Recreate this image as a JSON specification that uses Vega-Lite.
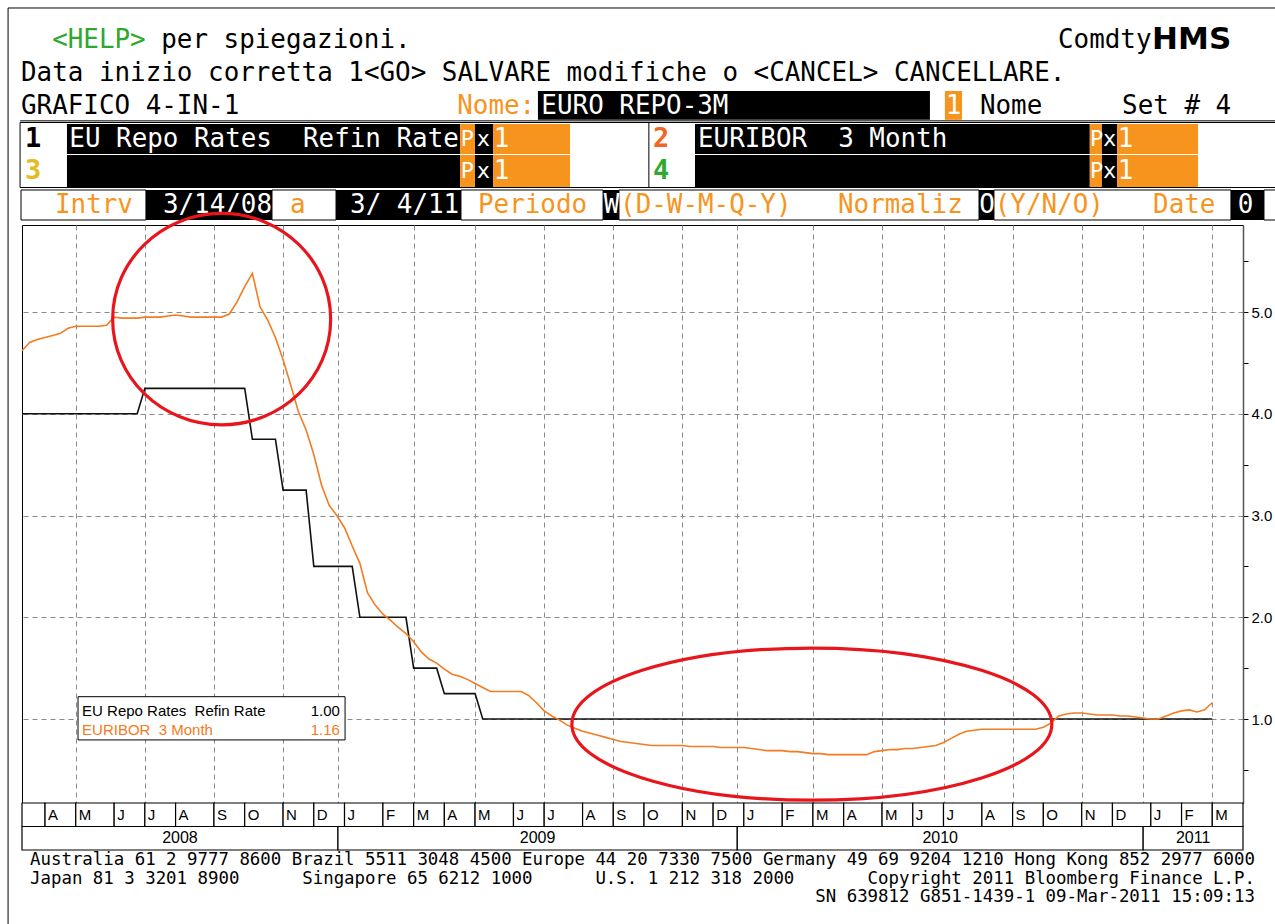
{
"$schema":"https://vega.github.io/schema/vega-lite/v6.json",
"width":1221,"height":578,
"padding":{"left":22,"top":225,"right":32,"bottom":121},
"autosize":{"type":"none"},
"background":"#ffffff",
"config":{"view":{"stroke":"#000000","strokeWidth":1}},
"datasets":{
"rates":[
{"d":"2008-03-14","s":"Refi","v":4.0},{"d":"2008-06-27","s":"Refi","v":4.0},{"d":"2008-07-04","s":"Refi","v":4.25},{"d":"2008-10-03","s":"Refi","v":4.25},{"d":"2008-10-10","s":"Refi","v":3.75},{"d":"2008-10-31","s":"Refi","v":3.75},{"d":"2008-11-07","s":"Refi","v":3.25},{"d":"2008-11-28","s":"Refi","v":3.25},{"d":"2008-12-05","s":"Refi","v":2.5},{"d":"2009-01-09","s":"Refi","v":2.5},{"d":"2009-01-16","s":"Refi","v":2.0},{"d":"2009-02-27","s":"Refi","v":2.0},{"d":"2009-03-06","s":"Refi","v":1.5},{"d":"2009-03-27","s":"Refi","v":1.5},{"d":"2009-04-03","s":"Refi","v":1.25},{"d":"2009-05-01","s":"Refi","v":1.25},{"d":"2009-05-08","s":"Refi","v":1.0},{"d":"2011-03-04","s":"Refi","v":1.0},
{"d":"2008-03-14","s":"Euribor","v":4.62},{"d":"2008-03-21","s":"Euribor","v":4.70},{"d":"2008-03-28","s":"Euribor","v":4.73},{"d":"2008-04-04","s":"Euribor","v":4.75},{"d":"2008-04-11","s":"Euribor","v":4.77},{"d":"2008-04-18","s":"Euribor","v":4.79},{"d":"2008-04-25","s":"Euribor","v":4.84},{"d":"2008-05-02","s":"Euribor","v":4.86},{"d":"2008-05-09","s":"Euribor","v":4.86},{"d":"2008-05-16","s":"Euribor","v":4.86},{"d":"2008-05-23","s":"Euribor","v":4.86},{"d":"2008-05-30","s":"Euribor","v":4.87},{"d":"2008-06-06","s":"Euribor","v":4.95},{"d":"2008-06-13","s":"Euribor","v":4.94},{"d":"2008-06-20","s":"Euribor","v":4.94},{"d":"2008-06-27","s":"Euribor","v":4.94},{"d":"2008-07-04","s":"Euribor","v":4.95},{"d":"2008-07-11","s":"Euribor","v":4.95},{"d":"2008-07-18","s":"Euribor","v":4.95},{"d":"2008-07-25","s":"Euribor","v":4.96},{"d":"2008-08-01","s":"Euribor","v":4.97},{"d":"2008-08-08","s":"Euribor","v":4.96},{"d":"2008-08-15","s":"Euribor","v":4.95},{"d":"2008-08-22","s":"Euribor","v":4.95},{"d":"2008-08-29","s":"Euribor","v":4.95},{"d":"2008-09-05","s":"Euribor","v":4.95},{"d":"2008-09-12","s":"Euribor","v":4.95},{"d":"2008-09-19","s":"Euribor","v":4.98},{"d":"2008-09-26","s":"Euribor","v":5.10},{"d":"2008-10-03","s":"Euribor","v":5.25},{"d":"2008-10-10","s":"Euribor","v":5.38},{"d":"2008-10-17","s":"Euribor","v":5.05},{"d":"2008-10-24","s":"Euribor","v":4.92},{"d":"2008-10-31","s":"Euribor","v":4.75},{"d":"2008-11-07","s":"Euribor","v":4.53},{"d":"2008-11-14","s":"Euribor","v":4.28},{"d":"2008-11-21","s":"Euribor","v":4.02},{"d":"2008-11-28","s":"Euribor","v":3.84},{"d":"2008-12-05","s":"Euribor","v":3.60},{"d":"2008-12-12","s":"Euribor","v":3.30},{"d":"2008-12-19","s":"Euribor","v":3.10},{"d":"2008-12-26","s":"Euribor","v":3.00},
{"d":"2009-01-02","s":"Euribor","v":2.88},{"d":"2009-01-09","s":"Euribor","v":2.70},{"d":"2009-01-16","s":"Euribor","v":2.53},{"d":"2009-01-23","s":"Euribor","v":2.24},{"d":"2009-01-30","s":"Euribor","v":2.12},{"d":"2009-02-06","s":"Euribor","v":2.03},{"d":"2009-02-13","s":"Euribor","v":1.97},{"d":"2009-02-20","s":"Euribor","v":1.90},{"d":"2009-02-27","s":"Euribor","v":1.84},{"d":"2009-03-06","s":"Euribor","v":1.76},{"d":"2009-03-13","s":"Euribor","v":1.66},{"d":"2009-03-20","s":"Euribor","v":1.59},{"d":"2009-03-27","s":"Euribor","v":1.55},{"d":"2009-04-03","s":"Euribor","v":1.49},{"d":"2009-04-10","s":"Euribor","v":1.44},{"d":"2009-04-17","s":"Euribor","v":1.42},{"d":"2009-04-24","s":"Euribor","v":1.39},{"d":"2009-05-01","s":"Euribor","v":1.35},{"d":"2009-05-08","s":"Euribor","v":1.31},{"d":"2009-05-15","s":"Euribor","v":1.27},{"d":"2009-05-22","s":"Euribor","v":1.27},{"d":"2009-05-29","s":"Euribor","v":1.27},{"d":"2009-06-05","s":"Euribor","v":1.27},{"d":"2009-06-12","s":"Euribor","v":1.27},{"d":"2009-06-19","s":"Euribor","v":1.23},{"d":"2009-06-26","s":"Euribor","v":1.16},{"d":"2009-07-03","s":"Euribor","v":1.08},{"d":"2009-07-10","s":"Euribor","v":1.03},{"d":"2009-07-17","s":"Euribor","v":0.99},{"d":"2009-07-24","s":"Euribor","v":0.94},{"d":"2009-07-31","s":"Euribor","v":0.91},{"d":"2009-08-07","s":"Euribor","v":0.88},{"d":"2009-08-14","s":"Euribor","v":0.86},{"d":"2009-08-21","s":"Euribor","v":0.84},{"d":"2009-08-28","s":"Euribor","v":0.82},{"d":"2009-09-04","s":"Euribor","v":0.80},{"d":"2009-09-11","s":"Euribor","v":0.78},{"d":"2009-09-18","s":"Euribor","v":0.77},{"d":"2009-09-25","s":"Euribor","v":0.76},{"d":"2009-10-02","s":"Euribor","v":0.75},{"d":"2009-10-09","s":"Euribor","v":0.74},{"d":"2009-10-16","s":"Euribor","v":0.74},{"d":"2009-10-23","s":"Euribor","v":0.74},{"d":"2009-10-30","s":"Euribor","v":0.74},{"d":"2009-11-06","s":"Euribor","v":0.74},{"d":"2009-11-13","s":"Euribor","v":0.73},{"d":"2009-11-20","s":"Euribor","v":0.73},{"d":"2009-11-27","s":"Euribor","v":0.73},{"d":"2009-12-04","s":"Euribor","v":0.73},{"d":"2009-12-11","s":"Euribor","v":0.72},{"d":"2009-12-18","s":"Euribor","v":0.72},{"d":"2009-12-25","s":"Euribor","v":0.72},
{"d":"2010-01-01","s":"Euribor","v":0.72},{"d":"2010-01-08","s":"Euribor","v":0.71},{"d":"2010-01-15","s":"Euribor","v":0.70},{"d":"2010-01-22","s":"Euribor","v":0.69},{"d":"2010-01-29","s":"Euribor","v":0.69},{"d":"2010-02-05","s":"Euribor","v":0.69},{"d":"2010-02-12","s":"Euribor","v":0.68},{"d":"2010-02-19","s":"Euribor","v":0.68},{"d":"2010-02-26","s":"Euribor","v":0.67},{"d":"2010-03-05","s":"Euribor","v":0.66},{"d":"2010-03-12","s":"Euribor","v":0.66},{"d":"2010-03-19","s":"Euribor","v":0.65},{"d":"2010-03-26","s":"Euribor","v":0.65},{"d":"2010-04-02","s":"Euribor","v":0.65},{"d":"2010-04-09","s":"Euribor","v":0.65},{"d":"2010-04-16","s":"Euribor","v":0.65},{"d":"2010-04-23","s":"Euribor","v":0.65},{"d":"2010-04-30","s":"Euribor","v":0.68},{"d":"2010-05-07","s":"Euribor","v":0.69},{"d":"2010-05-14","s":"Euribor","v":0.70},{"d":"2010-05-21","s":"Euribor","v":0.70},{"d":"2010-05-28","s":"Euribor","v":0.71},{"d":"2010-06-04","s":"Euribor","v":0.71},{"d":"2010-06-11","s":"Euribor","v":0.72},{"d":"2010-06-18","s":"Euribor","v":0.73},{"d":"2010-06-25","s":"Euribor","v":0.74},{"d":"2010-07-02","s":"Euribor","v":0.77},{"d":"2010-07-09","s":"Euribor","v":0.81},{"d":"2010-07-16","s":"Euribor","v":0.85},{"d":"2010-07-23","s":"Euribor","v":0.88},{"d":"2010-07-30","s":"Euribor","v":0.89},{"d":"2010-08-06","s":"Euribor","v":0.90},{"d":"2010-08-13","s":"Euribor","v":0.90},{"d":"2010-08-20","s":"Euribor","v":0.90},{"d":"2010-08-27","s":"Euribor","v":0.90},{"d":"2010-09-03","s":"Euribor","v":0.90},{"d":"2010-09-10","s":"Euribor","v":0.90},{"d":"2010-09-17","s":"Euribor","v":0.90},{"d":"2010-09-24","s":"Euribor","v":0.90},{"d":"2010-10-01","s":"Euribor","v":0.92},{"d":"2010-10-08","s":"Euribor","v":0.96},{"d":"2010-10-15","s":"Euribor","v":1.03},{"d":"2010-10-22","s":"Euribor","v":1.05},{"d":"2010-10-29","s":"Euribor","v":1.06},{"d":"2010-11-05","s":"Euribor","v":1.06},{"d":"2010-11-12","s":"Euribor","v":1.05},{"d":"2010-11-19","s":"Euribor","v":1.04},{"d":"2010-11-26","s":"Euribor","v":1.04},{"d":"2010-12-03","s":"Euribor","v":1.04},{"d":"2010-12-10","s":"Euribor","v":1.03},{"d":"2010-12-17","s":"Euribor","v":1.03},{"d":"2010-12-24","s":"Euribor","v":1.02},{"d":"2010-12-31","s":"Euribor","v":1.01},
{"d":"2011-01-07","s":"Euribor","v":1.00},{"d":"2011-01-14","s":"Euribor","v":1.00},{"d":"2011-01-21","s":"Euribor","v":1.03},{"d":"2011-01-28","s":"Euribor","v":1.06},{"d":"2011-02-04","s":"Euribor","v":1.08},{"d":"2011-02-11","s":"Euribor","v":1.09},{"d":"2011-02-18","s":"Euribor","v":1.07},{"d":"2011-02-25","s":"Euribor","v":1.09},{"d":"2011-03-04","s":"Euribor","v":1.16}
],
"screen":[
{"k":"rule","c":-0.83,"c2":82,"l":0.03,"l2":0.03},
{"k":"rule","c":-0.83,"c2":-0.83,"l":0.03,"l2":28},
{"k":"rule","c":-0.06,"c2":82,"l":3.45,"l2":3.45},
{"k":"frame","c":-0.06,"c2":82,"l":3.5,"l2":5.47,"s":"white"},
{"k":"frame","c":0,"c2":8.02,"l":5.545,"l2":6.455,"s":"white"},
{"k":"frame","c":16.11,"c2":20.22,"l":5.545,"l2":6.455,"s":"white"},
{"k":"frame","c":28.24,"c2":37.36,"l":5.545,"l2":6.455,"s":"white"},
{"k":"frame","c":38.38,"c2":61.49,"l":5.545,"l2":6.455,"s":"white"},
{"k":"frame","c":62.45,"c2":77.66,"l":5.545,"l2":6.455,"s":"white"},
{"k":"frame","c":79.78,"c2":82,"l":5.545,"l2":6.455,"s":"white"},
{"k":"frame","c":3.66,"c2":20.8,"l":20.9,"l2":22.21,"s":"white"},
{"k":"rule","c":40.3,"c2":40.3,"l":3.5,"l2":5.47},
{"k":"fill","c":33.18,"c2":58.34,"l":2.545,"l2":3.42,"s":"black"},
{"k":"fill","c":59.3,"c2":60.4,"l":2.545,"l2":3.42,"s":"orange"},
{"k":"fill","c":2.95,"c2":28.18,"l":3.545,"l2":4.455,"s":"black"},
{"k":"fill","c":28.18,"c2":29.14,"l":3.545,"l2":4.455,"s":"orange"},
{"k":"fill","c":29.14,"c2":30.3,"l":3.545,"l2":4.455,"s":"black"},
{"k":"fill","c":30.3,"c2":35.24,"l":3.545,"l2":4.455,"s":"orange"},
{"k":"fill","c":43.26,"c2":68.6,"l":3.545,"l2":4.455,"s":"black"},
{"k":"fill","c":68.6,"c2":69.38,"l":3.545,"l2":4.455,"s":"orange"},
{"k":"fill","c":69.38,"c2":70.35,"l":3.545,"l2":4.455,"s":"black"},
{"k":"fill","c":70.35,"c2":75.55,"l":3.545,"l2":4.455,"s":"orange"},
{"k":"fill","c":2.95,"c2":28.18,"l":4.485,"l2":5.455,"s":"black"},
{"k":"fill","c":28.18,"c2":29.14,"l":4.485,"l2":5.455,"s":"orange"},
{"k":"fill","c":29.14,"c2":30.3,"l":4.485,"l2":5.455,"s":"black"},
{"k":"fill","c":30.3,"c2":35.24,"l":4.485,"l2":5.455,"s":"orange"},
{"k":"fill","c":43.26,"c2":68.6,"l":4.485,"l2":5.455,"s":"black"},
{"k":"fill","c":68.6,"c2":69.38,"l":4.485,"l2":5.455,"s":"orange"},
{"k":"fill","c":69.38,"c2":70.35,"l":4.485,"l2":5.455,"s":"black"},
{"k":"fill","c":70.35,"c2":75.55,"l":4.485,"l2":5.455,"s":"orange"},
{"k":"fill","c":8.02,"c2":16.11,"l":5.545,"l2":6.455,"s":"black"},
{"k":"fill","c":20.22,"c2":28.24,"l":5.545,"l2":6.455,"s":"black"},
{"k":"fill","c":37.36,"c2":38.38,"l":5.545,"l2":6.455,"s":"black"},
{"k":"fill","c":61.49,"c2":62.45,"l":5.545,"l2":6.455,"s":"black"},
{"k":"fill","c":77.66,"c2":79.78,"l":5.545,"l2":6.455,"s":"black"},
{"k":"txt","t":"<HELP>","c":2,"l":1,"s":"green"},
{"k":"txt","t":"per spiegazioni.","c":9,"l":1,"s":"black"},
{"k":"txt","t":"Comdty","c":66.56,"l":1,"s":"black"},
{"k":"hms","t":"HMS","c":72.6,"l":1,"s":"black"},
{"k":"txt","t":"Data inizio corretta 1<GO> SALVARE modifiche o <CANCEL> CANCELLARE.","c":0,"l":2,"s":"black"},
{"k":"txt","t":"GRAFICO 4-IN-1","c":0,"l":3,"s":"black"},
{"k":"txt","t":"Nome:","c":28,"l":3,"s":"orange"},
{"k":"txt","t":"EURO REPO-3M","c":33.4,"l":3,"s":"white"},
{"k":"txt","t":"1","c":59.35,"l":3,"s":"white"},
{"k":"txt","t":"Nome","c":61.55,"l":3,"s":"black"},
{"k":"txt","t":"Set # 4","c":70.67,"l":3,"s":"black"},
{"k":"big","t":"1","c":0.26,"l":4,"s":"black"},
{"k":"txt","t":"EU Repo Rates","c":3.1,"l":4,"s":"white"},
{"k":"txt","t":"Refin Rate","c":18.1,"l":4,"s":"white"},
{"k":"pp","t":"P","c":28.22,"l":4,"s":"white"},
{"k":"pp","t":"x","c":29.25,"l":4,"s":"white"},
{"k":"txt","t":"1","c":30.35,"l":4,"s":"white"},
{"k":"big","t":"2","c":40.56,"l":4,"s":"red"},
{"k":"txt","t":"EURIBOR","c":43.45,"l":4,"s":"white"},
{"k":"txt","t":"3 Month","c":52.45,"l":4,"s":"white"},
{"k":"pp","t":"P","c":68.62,"l":4,"s":"white"},
{"k":"pp","t":"x","c":69.45,"l":4,"s":"white"},
{"k":"txt","t":"1","c":70.4,"l":4,"s":"white"},
{"k":"big","t":"3","c":0.26,"l":4.97,"s":"yellow"},
{"k":"pp","t":"P","c":28.22,"l":4.97,"s":"white"},
{"k":"pp","t":"x","c":29.25,"l":4.97,"s":"white"},
{"k":"txt","t":"1","c":30.35,"l":4.97,"s":"white"},
{"k":"big","t":"4","c":40.56,"l":4.97,"s":"green"},
{"k":"pp","t":"P","c":68.62,"l":4.97,"s":"white"},
{"k":"pp","t":"x","c":69.45,"l":4.97,"s":"white"},
{"k":"txt","t":"1","c":70.4,"l":4.97,"s":"white"},
{"k":"txt","t":"Intrv","c":2.18,"l":6,"s":"orange"},
{"k":"txt","t":"3/14/08","c":9.11,"l":6,"s":"white"},
{"k":"txt","t":"a","c":17.27,"l":6,"s":"orange"},
{"k":"txt","t":"3/ 4/11","c":21.12,"l":6,"s":"white"},
{"k":"txt","t":"Periodo","c":29.33,"l":6,"s":"orange"},
{"k":"txt","t":"W","c":37.4,"l":6,"s":"white"},
{"k":"txt","t":"(D-W-M-Q-Y)","c":38.45,"l":6,"s":"orange"},
{"k":"txt","t":"Normaliz","c":52.44,"l":6,"s":"orange"},
{"k":"txt","t":"O","c":61.5,"l":6,"s":"white"},
{"k":"txt","t":"(Y/N/O)","c":62.5,"l":6,"s":"orange"},
{"k":"txt","t":"Date","c":72.66,"l":6,"s":"orange"},
{"k":"txt","t":"0","c":78.1,"l":6,"s":"white"},
{"k":"leg","t":"EU Repo Rates\u00a0 Refin Rate","c":3.92,"l":21.33,"s":"black"},
{"k":"leg","t":"EURIBOR\u00a0 3 Month","c":3.92,"l":21.91,"s":"lorange"},
{"k":"legr","t":"1.00","c":20.47,"l":21.33,"s":"black"},
{"k":"legr","t":"1.16","c":20.47,"l":21.91,"s":"lorange"}
],
"footer":[
{"t":"Australia 61 2 9777 8600 Brazil 5511 3048 4500 Europe 44 20 7330 7500 Germany 49 69 9204 1210 Hong Kong 852 2977 6000","c":0,"l":1},
{"t":"Japan 81 3 3201 8900","c":0,"l":2},
{"t":"Singapore 65 6212 1000","c":26,"l":2},
{"t":"U.S. 1 212 318 2000","c":54,"l":2},
{"t":"Copyright 2011 Bloomberg Finance L.P.","c":80,"l":2},
{"t":"SN 639812 G851-1439-1 09-Mar-2011 15:09:13","c":75,"l":3}
],
"months":[
{"m":"","s":"2008-03-14","e":"2008-04-04"},{"m":"A","s":"2008-04-04","e":"2008-05-02"},{"m":"M","s":"2008-05-02","e":"2008-06-06"},{"m":"J","s":"2008-06-06","e":"2008-07-04"},{"m":"J","s":"2008-07-04","e":"2008-08-01"},{"m":"A","s":"2008-08-01","e":"2008-09-05"},{"m":"S","s":"2008-09-05","e":"2008-10-03"},{"m":"O","s":"2008-10-03","e":"2008-11-07"},{"m":"N","s":"2008-11-07","e":"2008-12-05"},{"m":"D","s":"2008-12-05","e":"2009-01-02"},
{"m":"J","s":"2009-01-02","e":"2009-02-06"},{"m":"F","s":"2009-02-06","e":"2009-03-06"},{"m":"M","s":"2009-03-06","e":"2009-04-03"},{"m":"A","s":"2009-04-03","e":"2009-05-01"},{"m":"M","s":"2009-05-01","e":"2009-06-05"},{"m":"J","s":"2009-06-05","e":"2009-07-03"},{"m":"J","s":"2009-07-03","e":"2009-08-07"},{"m":"A","s":"2009-08-07","e":"2009-09-04"},{"m":"S","s":"2009-09-04","e":"2009-10-02"},{"m":"O","s":"2009-10-02","e":"2009-11-06"},{"m":"N","s":"2009-11-06","e":"2009-12-04"},{"m":"D","s":"2009-12-04","e":"2010-01-01"},
{"m":"J","s":"2010-01-01","e":"2010-02-05"},{"m":"F","s":"2010-02-05","e":"2010-03-05"},{"m":"M","s":"2010-03-05","e":"2010-04-02"},{"m":"A","s":"2010-04-02","e":"2010-05-07"},{"m":"M","s":"2010-05-07","e":"2010-06-04"},{"m":"J","s":"2010-06-04","e":"2010-07-02"},{"m":"J","s":"2010-07-02","e":"2010-08-06"},{"m":"A","s":"2010-08-06","e":"2010-09-03"},{"m":"S","s":"2010-09-03","e":"2010-10-01"},{"m":"O","s":"2010-10-01","e":"2010-11-05"},{"m":"N","s":"2010-11-05","e":"2010-12-03"},{"m":"D","s":"2010-12-03","e":"2011-01-07"},
{"m":"J","s":"2011-01-07","e":"2011-02-04"},{"m":"F","s":"2011-02-04","e":"2011-03-04"},{"m":"M","s":"2011-03-04","e":"2011-04-01"}
],
"years":[
{"y":"2008","s":"2008-03-14","e":"2008-12-27"},{"y":"2009","s":"2008-12-27","e":"2009-12-26"},{"y":"2010","s":"2009-12-26","e":"2010-12-31"},{"y":"2011","s":"2010-12-31","e":"2011-04-01"}
]
},
"layer":[
{
 "data":{"name":"screen"},
 "layer":[
  {"transform":[{"filter":"datum.k === 'frame'"}],
   "mark":{"type":"rect","stroke":"#000000","strokeWidth":1},
   "encoding":{
    "x":{"field":"c","type":"quantitative","scale":{"domain":[0,80],"range":[-1,1245.4],"nice":false,"zero":false},"axis":null},
    "x2":{"field":"c2"},
    "y":{"field":"l","type":"quantitative","scale":{"domain":[1,6],"range":[-185,-20],"nice":false,"zero":false},"axis":null},
    "y2":{"field":"l2"},
    "color":{"field":"s","type":"nominal","scale":{"domain":["black","white","orange","green","yellow","red","lorange"],"range":["#000000","#ffffff","#F7941E","#2EA82E","#E2BC22","#F26522","#F47B20"]},"legend":null}
   }},
  {"transform":[{"filter":"datum.k === 'fill'"}],
   "mark":{"type":"rect"},
   "encoding":{
    "x":{"field":"c","type":"quantitative"},"x2":{"field":"c2"},
    "y":{"field":"l","type":"quantitative"},"y2":{"field":"l2"},
    "color":{"field":"s","type":"nominal"}
   }},
  {"transform":[{"filter":"datum.k === 'rule'"}],
   "mark":{"type":"rule","color":"#000000","strokeWidth":1},
   "encoding":{
    "x":{"field":"c","type":"quantitative"},"x2":{"field":"c2"},
    "y":{"field":"l","type":"quantitative"},"y2":{"field":"l2"}
   }},
  {"transform":[{"filter":"datum.k === 'txt'"}],
   "mark":{"type":"text","align":"left","baseline":"middle","font":"DejaVu Sans Mono","fontSize":25.9},
   "encoding":{
    "x":{"field":"c","type":"quantitative"},"y":{"field":"l","type":"quantitative"},
    "text":{"field":"t"},"color":{"field":"s","type":"nominal"}
   }},
  {"transform":[{"filter":"datum.k === 'pp'"}],
   "mark":{"type":"text","align":"left","baseline":"middle","font":"DejaVu Sans Mono","fontSize":22},
   "encoding":{
    "x":{"field":"c","type":"quantitative"},"y":{"field":"l","type":"quantitative"},
    "text":{"field":"t"},"color":{"field":"s","type":"nominal"}
   }},
  {"transform":[{"filter":"datum.k === 'big'"}],
   "mark":{"type":"text","align":"left","baseline":"middle","font":"DejaVu Sans Mono","fontSize":27,"fontWeight":"bold"},
   "encoding":{
    "x":{"field":"c","type":"quantitative"},"y":{"field":"l","type":"quantitative"},
    "text":{"field":"t"},"color":{"field":"s","type":"nominal"}
   }},
  {"transform":[{"filter":"datum.k === 'hms'"}],
   "mark":{"type":"text","align":"left","baseline":"middle","font":"DejaVu Sans","fontSize":31,"fontWeight":"bold"},
   "encoding":{
    "x":{"field":"c","type":"quantitative"},"y":{"field":"l","type":"quantitative"},
    "text":{"field":"t"},"color":{"field":"s","type":"nominal"}
   }},
  {"transform":[{"filter":"datum.k === 'leg'"}],
   "mark":{"type":"text","align":"left","baseline":"middle","font":"Liberation Sans","fontSize":15},
   "encoding":{
    "x":{"field":"c","type":"quantitative"},"y":{"field":"l","type":"quantitative"},
    "text":{"field":"t"},"color":{"field":"s","type":"nominal"}
   }},
  {"transform":[{"filter":"datum.k === 'legr'"}],
   "mark":{"type":"text","align":"right","baseline":"middle","font":"Liberation Sans","fontSize":15},
   "encoding":{
    "x":{"field":"c","type":"quantitative"},"y":{"field":"l","type":"quantitative"},
    "text":{"field":"t"},"color":{"field":"s","type":"nominal"}
   }}
 ]
},
{
 "layer":[
  {"data":{"name":"rates"},
   "mark":{"type":"line","strokeWidth":1.6},
   "encoding":{
    "x":{"field":"d","type":"temporal","scale":{"domain":[{"year":2008,"month":3,"date":14},{"year":2011,"month":4,"date":1}],"nice":false},
      "axis":{"orient":"bottom","title":null,"labels":false,"ticks":false,"domain":false,"grid":true,"gridDash":[5,4],"gridColor":"#8a8a8a","gridWidth":1,
        "values":[{"year":2008,"month":5,"date":2},{"year":2008,"month":7,"date":4},{"year":2008,"month":9,"date":5},{"year":2008,"month":11,"date":7},{"year":2008,"month":12,"date":27},{"year":2009,"month":3,"date":6},{"year":2009,"month":5,"date":1},{"year":2009,"month":7,"date":3},{"year":2009,"month":9,"date":4},{"year":2009,"month":11,"date":6},{"year":2009,"month":12,"date":26},{"year":2010,"month":3,"date":5},{"year":2010,"month":5,"date":7},{"year":2010,"month":7,"date":2},{"year":2010,"month":9,"date":3},{"year":2010,"month":11,"date":5},{"year":2010,"month":12,"date":31},{"year":2011,"month":3,"date":4}]}},
    "y":{"field":"v","type":"quantitative","scale":{"domain":[0.175,5.855],"nice":false,"zero":false},
      "axis":{"orient":"right","title":null,"values":[0.5,1,1.5,2,2.5,3,3.5,4,4.5,5,5.5],
        "labelExpr":"datum.value % 1 === 0 ? format(datum.value, '.1f') : ''",
        "grid":true,"gridDash":[5,4],"gridColor":"#8a8a8a","gridWidth":1,
        "gridOpacity":{"condition":{"test":"datum.value % 1 === 0","value":1},"value":0},
        "tickSize":5,"tickColor":"#000000","domainColor":"#555555","domainWidth":1.5,
        "labelFont":"Liberation Sans","labelFontSize":15,"labelColor":"#000000","labelPadding":3,"labelOverlap":false,"labelFlush":false,"labelBound":false}},
    "color":{"field":"s","type":"nominal","scale":{"domain":["Refi","Euribor"],"range":["#111111","#F47B20"]},"legend":null}
   }},
  {"data":{"values":[{"d":"2008-09-12","v":4.93}]},
   "mark":{"type":"point","shape":"M-1,0A1,0.97,0,1,0,1,0A1,0.97,0,1,0,-1,0Z","size":47524,"filled":false,"color":"#E8161C","strokeWidth":3.2,"opacity":1},
   "encoding":{"x":{"field":"d","type":"temporal"},"y":{"field":"v","type":"quantitative"}}},
  {"data":{"values":[{"d":"2010-03-04","v":0.95}]},
   "mark":{"type":"point","shape":"M-1,0A1,0.317,0,1,0,1,0A1,0.317,0,1,0,-1,0Z","size":230400,"filled":false,"color":"#E8161C","strokeWidth":3.2,"opacity":1},
   "encoding":{"x":{"field":"d","type":"temporal"},"y":{"field":"v","type":"quantitative"}}}
 ]
},
{
 "layer":[
  {"data":{"name":"months"},
   "mark":{"type":"rect","fill":"#ffffff","stroke":"#000000","strokeWidth":1.2},
   "encoding":{
    "x":{"field":"s","type":"temporal","scale":{"domain":[{"year":2008,"month":3,"date":14},{"year":2011,"month":4,"date":1}],"nice":false},"axis":null},
    "x2":{"field":"e"},
    "y":{"datum":0,"type":"quantitative","scale":{"domain":[0,2],"range":[578,625],"nice":false,"zero":false},"axis":null},
    "y2":{"datum":1}
   }},
  {"data":{"name":"months"},
   "mark":{"type":"text","align":"left","baseline":"middle","dx":3,"font":"Liberation Sans","fontSize":15,"color":"#000000"},
   "encoding":{
    "x":{"field":"s","type":"temporal"},
    "y":{"datum":0.5,"type":"quantitative"},
    "text":{"field":"m"}
   }},
  {"data":{"name":"years"},
   "mark":{"type":"rect","fill":"#ffffff","stroke":"#000000","strokeWidth":1.2},
   "encoding":{
    "x":{"field":"s","type":"temporal"},"x2":{"field":"e"},
    "y":{"datum":1,"type":"quantitative"},"y2":{"datum":2}
   }},
  {"data":{"name":"years"},
   "transform":[{"calculate":"(time(toDate(datum.s)) + time(toDate(datum.e))) / 2","as":"mid"}],
   "mark":{"type":"text","align":"center","baseline":"middle","font":"Liberation Sans","fontSize":16,"color":"#000000"},
   "encoding":{
    "x":{"field":"mid","type":"temporal"},
    "y":{"datum":1.5,"type":"quantitative"},
    "text":{"field":"y"}
   }}
 ]
},
{
 "data":{"name":"footer"},
 "mark":{"type":"text","align":"left","baseline":"middle","font":"DejaVu Sans Mono","fontSize":17.4,"color":"#000000"},
 "encoding":{
  "x":{"field":"c","type":"quantitative","scale":{"domain":[0,117],"range":[8,1233],"nice":false,"zero":false},"axis":null},
  "y":{"field":"l","type":"quantitative","scale":{"domain":[1,3],"range":[635,672],"nice":false,"zero":false},"axis":null},
  "text":{"field":"t"}
 }
}
],
"resolve":{"scale":{"x":"independent","y":"independent","color":"independent"},"axis":{"x":"independent","y":"independent"}}
}
